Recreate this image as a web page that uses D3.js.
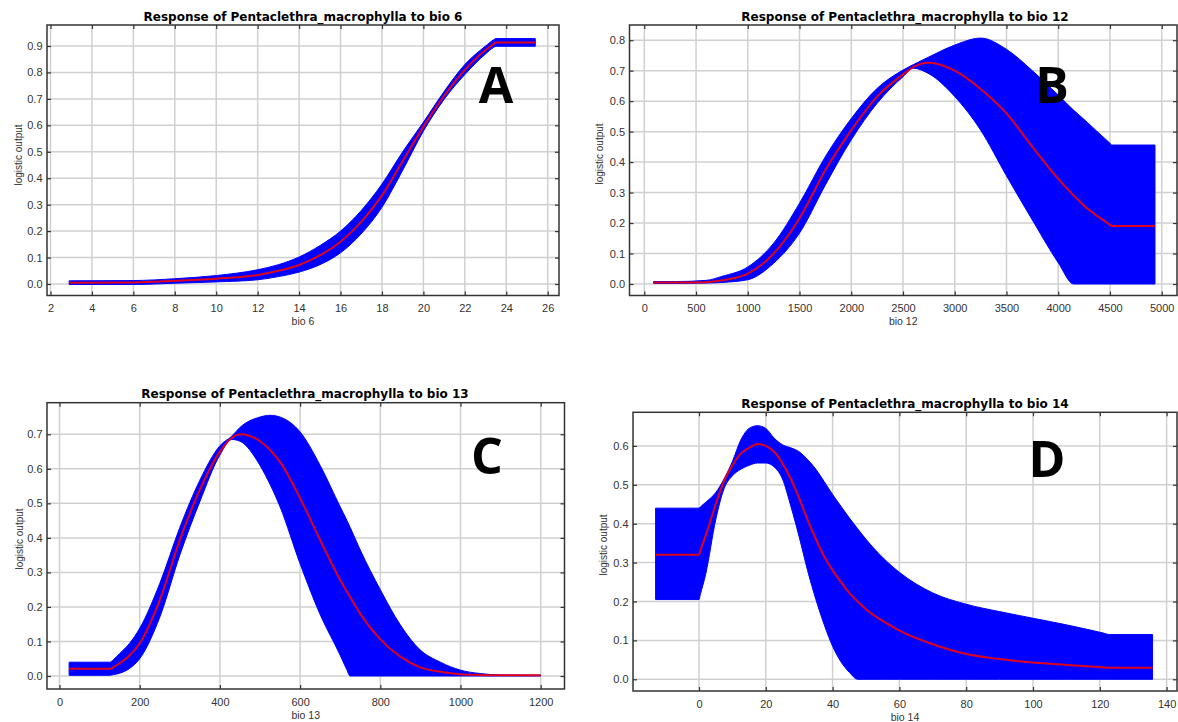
<!DOCTYPE html>
<html>
<head>
<meta charset="utf-8">
<script src="https://cdn.jsdelivr.net/npm/d3@7"></script>
<style>
  body { margin: 0; background: #fff; }
  svg { display: block; }
  text { font-family: "Liberation Sans", Arial, sans-serif; }
</style>
</head>
<body>
<svg id="chart" width="1178" height="722"></svg>
<script>
// ---- panel A : bio 6 ----
const A_x     = [2.9, 6, 8, 10, 12, 13, 14, 15, 16, 17, 18, 19, 20, 21, 22, 23, 23.4, 23.5, 25.4];
const A_upper = [0.012, 0.013, 0.02, 0.032, 0.054, 0.073, 0.102, 0.145, 0.2, 0.278, 0.378, 0.5, 0.612, 0.728, 0.83, 0.9, 0.924, 0.928, 0.928];
const A_mean  = [0.005, 0.006, 0.012, 0.02, 0.034, 0.05, 0.072, 0.108, 0.16, 0.235, 0.335, 0.465, 0.595, 0.712, 0.81, 0.885, 0.908, 0.913, 0.913];
const A_lower = [-0.002, -0.002, 0.003, 0.008, 0.016, 0.028, 0.045, 0.073, 0.118, 0.19, 0.29, 0.43, 0.578, 0.698, 0.792, 0.87, 0.895, 0.899, 0.899];
const A_xticks = [2, 4, 6, 8, 10, 12, 14, 16, 18, 20, 22, 24, 26];
const A_yticks = [0, 0.1, 0.2, 0.3, 0.4, 0.5, 0.6, 0.7, 0.8, 0.9];

// ---- panel B : bio 12 ----
const B_x     = [90, 300, 600, 750, 1000, 1250, 1500, 1750, 2000, 2250, 2500, 2600, 2750, 3000, 3250, 3500, 3750, 4000, 4150, 4250, 4490, 4520, 4935];
const B_upper = [0.008, 0.008, 0.012, 0.025, 0.056, 0.134, 0.265, 0.418, 0.543, 0.642, 0.702, 0.72, 0.745, 0.784, 0.807, 0.77, 0.70, 0.62, 0.57, 0.54, 0.465, 0.456, 0.456];
const B_mean  = [0.005, 0.005, 0.006, 0.012, 0.034, 0.1, 0.216, 0.374, 0.505, 0.615, 0.688, 0.712, 0.726, 0.70, 0.64, 0.56, 0.45, 0.345, 0.29, 0.257, 0.197, 0.19, 0.19];
const B_lower = [0.002, 0.002, 0.003, 0.005, 0.014, 0.068, 0.167, 0.325, 0.473, 0.593, 0.68, 0.708, 0.69, 0.615, 0.505, 0.355, 0.21, 0.07, 0, 0, 0, 0, 0];
const B_xticks = [0, 500, 1000, 1500, 2000, 2500, 3000, 3500, 4000, 4500, 5000];
const B_yticks = [0, 0.1, 0.2, 0.3, 0.4, 0.5, 0.6, 0.7, 0.8];

// ---- panel C : bio 13 ----
const C_x     = [24, 125, 135, 150, 175, 200, 250, 300, 350, 400, 430, 450, 500, 525, 550, 600, 650, 700, 715, 725, 750, 800, 850, 900, 950, 1000, 1050, 1100, 1200];
const C_upper = [0.04, 0.04, 0.048, 0.065, 0.095, 0.138, 0.268, 0.43, 0.567, 0.667, 0.695, 0.72, 0.75, 0.755, 0.75, 0.707, 0.61, 0.49, 0.455, 0.43, 0.365, 0.25, 0.148, 0.075, 0.04, 0.017, 0.007, 0.003, 0.002];
const C_mean  = [0.021, 0.021, 0.026, 0.037, 0.06, 0.095, 0.22, 0.394, 0.54, 0.65, 0.69, 0.70, 0.68, 0.655, 0.62, 0.515, 0.394, 0.278, 0.248, 0.228, 0.18, 0.106, 0.056, 0.025, 0.012, 0.005, 0.003, 0.002, 0.002];
const C_lower = [0.002, 0.002, 0.004, 0.008, 0.022, 0.05, 0.17, 0.35, 0.505, 0.64, 0.685, 0.68, 0.61, 0.555, 0.49, 0.325, 0.178, 0.06, 0.022, 0, 0, 0, 0, 0, 0, 0, 0, 0, 0];
const C_xticks = [0, 200, 400, 600, 800, 1000, 1200];
const C_yticks = [0, 0.1, 0.2, 0.3, 0.4, 0.5, 0.6, 0.7];

// ---- panel D : bio 14 ----
const D_x     = [-13, 0, 0.4, 2, 5, 7.5, 10, 12.5, 15, 17.5, 20, 22.5, 25, 27.5, 30, 32.5, 35, 37.5, 40, 42.5, 45, 47.5, 50, 55, 60, 70, 80, 90, 100, 110, 121, 123, 135.8];
const D_upper = [0.44, 0.44, 0.443, 0.455, 0.48, 0.515, 0.56, 0.615, 0.645, 0.652, 0.645, 0.62, 0.603, 0.595, 0.585, 0.565, 0.54, 0.508, 0.475, 0.445, 0.415, 0.387, 0.36, 0.313, 0.275, 0.222, 0.193, 0.174, 0.157, 0.14, 0.119, 0.115, 0.115];
const D_mean  = [0.32, 0.32, 0.331, 0.37, 0.45, 0.51, 0.55, 0.58, 0.595, 0.605, 0.6, 0.585, 0.555, 0.515, 0.465, 0.41, 0.36, 0.315, 0.28, 0.25, 0.222, 0.2, 0.18, 0.15, 0.125, 0.09, 0.065, 0.052, 0.043, 0.037, 0.031, 0.03, 0.03];
const D_lower = [0.205, 0.205, 0.218, 0.27, 0.41, 0.49, 0.523, 0.54, 0.55, 0.556, 0.556, 0.546, 0.515, 0.445, 0.366, 0.28, 0.205, 0.14, 0.085, 0.045, 0.018, 0, 0, 0, 0, 0, 0, 0, 0, 0, 0, 0, 0];
const D_xticks = [0, 20, 40, 60, 80, 100, 120, 140];
const D_yticks = [0, 0.1, 0.2, 0.3, 0.4, 0.5, 0.6];

const TITLE = "Response of Pentaclethra_macrophylla to ";

const panels = [
  { tag: "A", varName: "bio 6", xs: A_x, upper: A_upper, mean: A_mean, lower: A_lower, xTicks: A_xticks, yTicks: A_yticks,
    box: { l: 47, t: 25, r: 559, b: 295.5 }, xr: [50.5, 547.7], yr: [284, 46],
    titleX: 303, titleY: 20.5, yLabX: 18, yLabY: 155, xLabY: 321, letter: [496, 103] },
  { tag: "B", varName: "bio 12", xs: B_x, upper: B_upper, mean: B_mean, lower: B_lower, xTicks: B_xticks, yTicks: B_yticks,
    box: { l: 629.5, t: 25, r: 1177, b: 295.5 }, xr: [644.3, 1161.7], yr: [284, 40.2],
    titleX: 905, titleY: 20.5, yLabX: 599, yLabY: 154, xLabY: 321, letter: [1052, 103] },
  { tag: "C", varName: "bio 13", xs: C_x, upper: C_upper, mean: C_mean, lower: C_lower, xTicks: C_xticks, yTicks: C_yticks,
    box: { l: 47, t: 402.7, r: 564.5, b: 689 }, xr: [59.5, 540.7], yr: [676, 434.3],
    titleX: 305, titleY: 397.5, yLabX: 19, yLabY: 539, xLabY: 715, letter: [487, 474] },
  { tag: "D", varName: "bio 14", xs: D_x, upper: D_upper, mean: D_mean, lower: D_lower, xTicks: D_xticks, yTicks: D_yticks,
    box: { l: 633, t: 412.3, r: 1177, b: 691 }, xr: [699, 1166.6], yr: [679.3, 445.9],
    titleX: 905, titleY: 408, yLabX: 603, yLabY: 545, xLabY: 717, letter: [1047, 477] }
];

const svg = d3.select("#chart");
svg.append("rect").attr("width", 1178).attr("height", 722).attr("fill", "#fff");
const defs = svg.append("defs");

function styleAxis(sel) {
  sel.select(".domain").remove();
  sel.selectAll(".tick line").attr("stroke", "#333").attr("stroke-width", 1.2);
  sel.selectAll(".tick text")
    .attr("fill", "#333")
    .style("font-family", "'Liberation Sans', Arial, sans-serif")
    .style("font-size", "11px");
}

function drawPanel(p) {
  const b = p.box;
  const x = d3.scaleLinear().domain([p.xTicks[0], p.xTicks[p.xTicks.length - 1]]).range(p.xr);
  const y = d3.scaleLinear().domain([p.yTicks[0], p.yTicks[p.yTicks.length - 1]]).range(p.yr);
  const g = svg.append("g");

  defs.append("clipPath").attr("id", "clip" + p.tag)
    .append("rect").attr("x", b.l).attr("y", b.t).attr("width", b.r - b.l).attr("height", b.b - b.t);

  // grid
  const grid = g.append("g").attr("stroke", "#d0d0d0").attr("stroke-width", 1.5);
  grid.selectAll("line.v").data(p.xTicks).join("line").attr("class", "v")
    .attr("x1", d => x(d)).attr("x2", d => x(d)).attr("y1", b.t).attr("y2", b.b);
  grid.selectAll("line.h").data(p.yTicks).join("line").attr("class", "h")
    .attr("x1", b.l).attr("x2", b.r).attr("y1", d => y(d)).attr("y2", d => y(d));

  // band + mean
  const rows = p.xs.map((v, i) => ({ x: v, hi: p.upper[i], m: p.mean[i], lo: p.lower[i] }));
  const area = d3.area().curve(d3.curveMonotoneX)
    .x(d => x(d.x)).y0(d => y(d.lo)).y1(d => y(d.hi));
  const line = d3.line().curve(d3.curveMonotoneX)
    .x(d => x(d.x)).y(d => y(d.m));
  const plot = g.append("g").attr("clip-path", `url(#clip${p.tag})`);
  plot.append("path").datum(rows).attr("d", area)
    .attr("fill", "#0000ff").attr("stroke", "#0000ff").attr("stroke-width", 1);
  plot.append("path").datum(rows).attr("d", line)
    .attr("fill", "none").attr("stroke", "#e0001b").attr("stroke-width", 2);

  // frame
  g.append("rect").attr("x", b.l).attr("y", b.t).attr("width", b.r - b.l).attr("height", b.b - b.t)
    .attr("fill", "none").attr("stroke", "#333").attr("stroke-width", 1.5);

  // axes (ticks inward on all four sides)
  g.append("g").attr("transform", `translate(0,${b.b})`)
    .call(d3.axisBottom(x).tickValues(p.xTicks).tickSize(-4).tickSizeOuter(0).tickPadding(9).tickFormat(d3.format("d")))
    .call(styleAxis);
  g.append("g").attr("transform", `translate(0,${b.t})`)
    .call(d3.axisTop(x).tickValues(p.xTicks).tickSize(-4).tickSizeOuter(0).tickFormat(""))
    .call(styleAxis);
  g.append("g").attr("transform", `translate(${b.l},0)`)
    .call(d3.axisLeft(y).tickValues(p.yTicks).tickSize(-4).tickSizeOuter(0).tickPadding(4.5).tickFormat(d3.format(".1f")))
    .call(styleAxis);
  g.append("g").attr("transform", `translate(${b.r},0)`)
    .call(d3.axisRight(y).tickValues(p.yTicks).tickSize(-4).tickSizeOuter(0).tickFormat(""))
    .call(styleAxis);

  // texts
  g.append("text").attr("x", p.titleX).attr("y", p.titleY).attr("text-anchor", "middle")
    .style("font-family", "'DejaVu Sans', sans-serif")
    .style("font-size", "12px").style("font-weight", "bold").attr("fill", "#000")
    .text(TITLE + p.varName);
  g.append("text").attr("x", (b.l + b.r) / 2).attr("y", p.xLabY)
    .attr("text-anchor", "middle").attr("dominant-baseline", "central")
    .style("font-size", "10.5px").attr("fill", "#333").text(p.varName);
  g.append("text").attr("transform", `translate(${p.yLabX},${p.yLabY}) rotate(-90)`)
    .attr("text-anchor", "middle").attr("dominant-baseline", "central")
    .style("font-size", "10px").attr("fill", "#333").text("logistic output");
  g.append("text").attr("x", p.letter[0]).attr("y", p.letter[1]).attr("text-anchor", "middle")
    .style("font-family", "'Open Sans', sans-serif").style("font-weight", "bold").style("font-size", "50px")
    .attr("fill", "#000").text(p.tag);
}

panels.forEach(drawPanel);
</script>
</body>
</html>
